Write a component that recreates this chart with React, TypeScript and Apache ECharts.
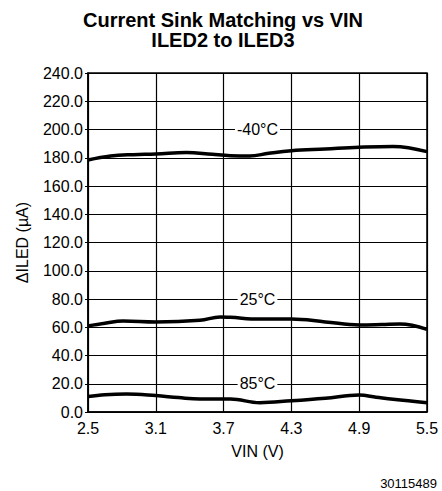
import React, { useEffect, useRef } from "react";
import * as echarts from "echarts";

const X_MIN = 2.5;
const xTicks = [2.5, 3.1, 3.7, 4.3, 4.9, 5.5];

const vinM40 = [2.5, 2.7, 2.9, 3.1, 3.37, 3.6, 3.76, 3.93, 4.1, 4.3, 4.6, 4.9, 5.2, 5.5];
const ledM40 = [178.4, 181.2, 182.2, 182.6, 183.8, 182.4, 181.5, 181.2, 183.2, 185.0, 186.2, 187.4, 188.0, 184.3];

const vin25 = [2.5, 2.65, 2.81, 3.1, 3.49, 3.67, 3.76, 4.02, 4.3, 4.6, 4.9, 5.1, 5.26, 5.5];
const led25 = [60.9, 62.8, 64.4, 63.7, 64.9, 67.3, 67.0, 65.8, 65.8, 63.8, 61.6, 61.9, 62.3, 58.5];

const vin85 = [2.5, 2.65, 2.84, 3.1, 3.3, 3.49, 3.76, 4.02, 4.3, 4.6, 4.9, 5.05, 5.2, 5.5];
const led85 = [10.9, 12.2, 12.7, 11.6, 10.2, 9.2, 9.2, 6.6, 8.0, 9.8, 12.0, 10.5, 9.0, 6.6];

const labelNames = ["-40°C", "25°C", "85°C"];
const labelX = [4.0, 4.0, 4.0];
const labelY = [200, 80, 20];

const pairs = (xs: number[], ys: number[]) => xs.map((x, i) => [x - X_MIN, ys[i]]);

export default function App() {
  const ref = useRef<HTMLDivElement>(null);
  useEffect(() => {
    const chart = echarts.init(ref.current!, null, { renderer: "svg" });
    const font = "Liberation Sans, Arial, sans-serif";
    const lineSeries = (data: number[][], idx: number) => ({
      type: "line",
      data,
      smooth: 0.4,
      symbol: "none",
      lineStyle: { color: "#000", width: 3.5 },
      z: 3,
      markPoint: {
        symbol: "rect",
        symbolSize: 0,
        data: [{ coord: [labelX[idx] - X_MIN, labelY[idx]] }],
        label: {
          show: true,
          formatter: labelNames[idx],
          color: "#000",
          fontFamily: font,
          fontSize: 16,
          backgroundColor: "#fff",
          padding: [0, 2, 0, 2],
          position: "inside",
        },
      },
    });
    chart.setOption({
      animation: false,
      backgroundColor: "#fff",
      title: [
        {
          text: "Current Sink Matching vs VIN\nILED2 to ILED3",
          left: 223,
          top: 10,
          padding: 0,
          textAlign: "center",
          textStyle: { fontFamily: font, fontSize: 20, fontWeight: "bold", lineHeight: 20, color: "#000" },
        },
        {
          text: "30115489",
          right: 5,
          top: 476,
          padding: 0,
          textStyle: { fontFamily: font, fontSize: 13, lineHeight: 14, fontWeight: "normal", color: "#000" },
        },
      ],
      grid: { left: 88, top: 73, width: 339, height: 339, show: true, borderColor: "#000", borderWidth: 1.5 },
      xAxis: {
        type: "value",
        min: 0,
        max: 3,
        interval: 0.6,
        name: "VIN (V)",
        nameLocation: "middle",
        nameGap: 31,
        nameTextStyle: { fontFamily: font, fontSize: 16, color: "#000" },
        axisLine: { lineStyle: { color: "#000", width: 1.5 } },
        axisTick: { show: false },
        axisLabel: {
          fontFamily: font,
          fontSize: 16,
          color: "#000",
          margin: 8,
          formatter: (v: number) => {
            const i = Math.round(v / 0.6);
            return xTicks[i] !== undefined ? xTicks[i].toFixed(1) : "";
          },
        },
        splitLine: { show: true, lineStyle: { color: "#000", width: 1.2 } },
      },
      yAxis: {
        type: "value",
        min: 0,
        max: 240,
        interval: 20,
        name: "ΔILED (µA)",
        nameLocation: "middle",
        nameGap: 58,
        nameTextStyle: { fontFamily: font, fontSize: 16, color: "#000" },
        axisLine: { show: true, lineStyle: { color: "#000", width: 1.5 } },
        axisTick: { show: true, length: 3, lineStyle: { color: "#000" } },
        axisLabel: {
          fontFamily: font,
          fontSize: 16,
          color: "#000",
          margin: 5,
          formatter: (v: number) => v.toFixed(1),
        },
        splitLine: { show: true, lineStyle: { color: "#000", width: 1.2 } },
      },
      series: [
        lineSeries(pairs(vinM40, ledM40), 0),
        lineSeries(pairs(vin25, led25), 1),
        lineSeries(pairs(vin85, led85), 2),
      ],
    });
    return () => chart.dispose();
  }, []);
  return <div ref={ref} style={{ position: "absolute", left: 0, top: 0, width: 442, height: 491 }} />;
}
